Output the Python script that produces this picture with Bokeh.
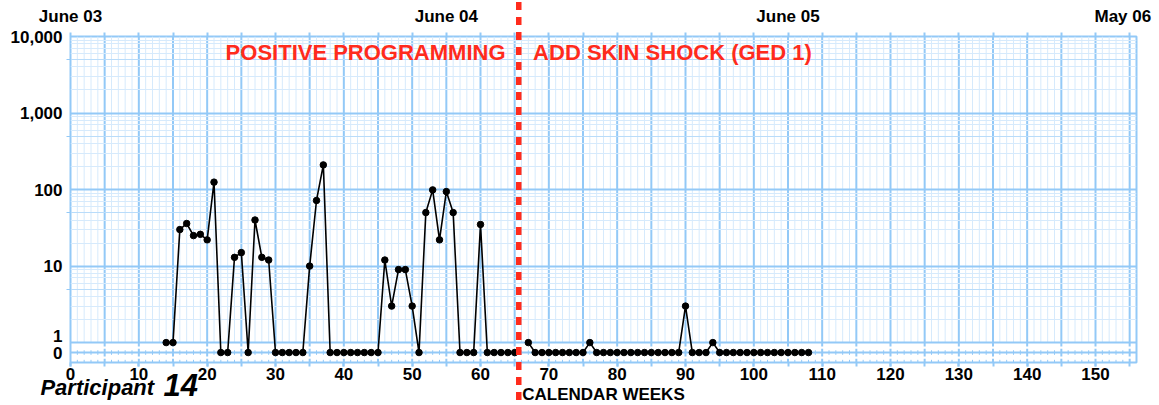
import numpy as np
from bokeh.plotting import figure
from bokeh.models import FixedTicker, LinearAxis, Grid, Label, Range1d
from bokeh.core.properties import value
from bokeh.embed import file_html
from bokeh.resources import INLINE

# ---------------- data ----------------
phase1_weeks = list(range(14, 66))
phase1_counts = [1, 1, 30, 36, 25, 26, 22, 125, 0, 0, 13, 15, 0, 40, 13, 12,
                 0, 0, 0, 0, 0, 10, 72, 210, 0, 0, 0, 0, 0, 0, 0, 0,
                 12, 3, 9, 9, 3, 0, 50, 99, 22, 94, 50, 0, 0, 0, 35,
                 0, 0, 0, 0, 0]
phase2_weeks = list(range(67, 109))
phase2_counts = [1, 0, 0, 0, 0, 0, 0, 0, 0, 1,
                 0, 0, 0, 0, 0, 0, 0, 0, 0, 0, 0, 0, 0,
                 3, 0, 0, 0, 1,
                 0, 0, 0, 0, 0, 0, 0, 0, 0, 0, 0, 0, 0, 0]
phase_change_week = 65.6
phase_labels = ["POSITIVE PROGRAMMING", "ADD SKIN SHOCK (GED 1)"]
phase_label_weeks = [22.7, 67.7]
date_weeks = [0, 55, 105, 154]
date_labels = ["June 03", "June 04", "June 05", "May 06"]
x_ticks = list(range(0, 151, 10))
y_tick_values = [0, 1, 10, 100, 1000, 10000]
y_tick_labels = ["0", "1", "10", "100", "1,000", "10,000"]
participant = "Participant"
participant_no = "14"
x_title = "CALENDAR WEEKS"

# ---------------- styling ----------------
W, H = 1159, 405
LEFT, RIGHT, TOP, BOTTOM = 70, 23, 36, 43
ZERO = -0.13          # where a count of 0 is drawn (log10 units)
YMIN = -0.26
YMAX = 4.0
XMAX = 156
K = (W - LEFT - RIGHT) / XMAX   # px per week
FONT = "Liberation Sans"
RED = "#FF2B1C"
MAJ = "#93C9F7"
MED = "#B9DCFA"
MIN = "#D6EAFC"


def to_y(c):
    return float(np.log10(c)) if c > 0 else ZERO


p = figure(width=W, height=H, x_range=Range1d(0, XMAX), y_range=Range1d(YMIN, YMAX),
           output_backend="svg", toolbar_location=None,
           min_border_left=LEFT, min_border_right=RIGHT, min_border_top=TOP, min_border_bottom=BOTTOM)
p.xgrid.visible = False
p.ygrid.visible = False
p.outline_line_color = MAJ
p.outline_line_width = 2
p.background_fill_color = "white"
p.border_fill_color = "white"

# horizontal grid lines
minor_h = [d + np.log10(m) for d in range(4) for m in (2, 3, 4, 6, 7, 8, 9)]
five_h = [d + np.log10(5) for d in range(4)]
decade_h = [ZERO, 0, 1, 2, 3]
for ticks, col, w in ((minor_h, MIN, 1), (five_h, MED, 1), (decade_h, MAJ, 2)):
    g = Grid(dimension=1, ticker=FixedTicker(ticks=ticks), grid_line_color=col, grid_line_width=w)
    p.add_layout(g)

# vertical grid lines (only above the "1" line)
weeks_all = np.arange(1, XMAX)
minor_v = [int(w) for w in weeks_all if w % 5]
major_v = [int(w) for w in weeks_all if w % 5 == 0]
p.segment(x0=minor_v, y0=0, x1=minor_v, y1=YMAX, line_color=MIN, line_width=1, level="underlay")
p.segment(x0=major_v, y0=0, x1=major_v, y1=YMAX, line_color=MAJ, line_width=2, level="underlay")
# tick marks in the zero band
p.segment(x0=minor_v, y0=ZERO - 0.03, x1=minor_v, y1=ZERO + 0.03, line_color=MAJ, line_width=1, level="underlay")
p.segment(x0=minor_v, y0=YMIN, x1=minor_v, y1=YMIN + 0.035, line_color=MAJ, line_width=1, level="underlay")
p.segment(x0=major_v, y0=ZERO - 0.05, x1=major_v, y1=ZERO + 0.05, line_color=MAJ, line_width=2, level="underlay")
p.segment(x0=major_v, y0=YMIN, x1=major_v, y1=YMIN + 0.05, line_color=MAJ, line_width=2, level="underlay")
p.segment(x0=major_v, y0=-0.05, x1=major_v, y1=0, line_color=MAJ, line_width=2, level="underlay")

# data
for wk, cnt in ((phase1_weeks, phase1_counts), (phase2_weeks, phase2_counts)):
    ys = [to_y(c) for c in cnt]
    p.line(wk, ys, line_color="black", line_width=1.6)
    p.scatter(wk, ys, size=6.5, color="black")

# phase labels
for txt, xw in zip(phase_labels, phase_label_weeks):
    p.add_layout(Label(x=xw, y=3.785, text=txt, text_font=FONT, text_font_style="bold",
                       text_font_size="22px", text_color=RED, text_baseline="middle"))

# left axis
ya = p.yaxis[0]
y_pos = [ZERO if v == 0 else float(np.log10(v)) for v in y_tick_values]
y_pos[1] = 0.085  # label "1" sits just above its line
ya.ticker = FixedTicker(ticks=y_pos, minor_ticks=five_h)
ya.major_label_overrides = {pos: lab for pos, lab in zip(y_pos, y_tick_labels)}
ya.axis_line_color = None
ya.major_tick_out = 0
ya.major_tick_in = 0
ya.minor_tick_out = 4
ya.minor_tick_in = 0
ya.minor_tick_line_color = MAJ
ya.major_label_standoff = 4
ya.major_label_text_font = FONT
ya.major_label_text_font_style = "bold"
ya.major_label_text_font_size = "17px"
ya.major_label_text_color = "black"

# bottom axis
xa = p.xaxis[0]
xa.ticker = FixedTicker(ticks=x_ticks, minor_ticks=list(range(0, XMAX + 1, 5)))
xa.axis_line_color = None
xa.major_tick_out = 4
xa.major_tick_in = 0
xa.minor_tick_out = 4
xa.minor_tick_in = 0
xa.major_tick_line_color = MAJ
xa.minor_tick_line_color = MAJ
xa.major_tick_line_width = 2
xa.minor_tick_line_width = 2
xa.major_label_standoff = 1
xa.major_label_text_font = FONT
xa.major_label_text_font_style = "bold"
xa.major_label_text_font_size = "17px"
xa.major_label_text_color = "black"

# top axis with dates
ta = LinearAxis(ticker=FixedTicker(ticks=date_weeks, minor_ticks=list(range(0, XMAX + 1, 5))))
ta.major_label_overrides = {w: lab for w, lab in zip(date_weeks, date_labels)}
ta.axis_line_color = None
ta.major_tick_out = 0
ta.major_tick_in = 0
ta.minor_tick_out = 4
ta.minor_tick_in = 0
ta.minor_tick_line_color = MAJ
ta.minor_tick_line_width = 2
ta.major_label_standoff = 7
ta.major_label_text_font = FONT
ta.major_label_text_font_style = "bold"
ta.major_label_text_font_size = "17px"
ta.major_label_text_color = "black"
p.add_layout(ta, "above")

# ---------- transparent overlay (separate root) for marks outside the plot frame ----------
q = figure(width=W, height=H, x_range=Range1d(-LEFT / K, (W - LEFT) / K), y_range=Range1d(H, 0),
           output_backend="svg", toolbar_location=None, min_border=0,
           min_border_left=0, min_border_right=0, min_border_top=0, min_border_bottom=0,
           x_axis_location=None, y_axis_location=None)
q.grid.visible = False
q.outline_line_color = None
q.background_fill_alpha = 0
q.border_fill_alpha = 0
q.styles = {"position": "absolute", "left": "0px", "top": "0px"}

q.text(x=[-4.4], y=[387.4], text=[participant], text_font=value(FONT), text_font_style="bold italic",
       text_font_size="22px", text_baseline="middle", text_color="black")
q.text(x=[13.6], y=[384.3], text=[participant_no], text_font=value(FONT), text_font_style="bold italic",
       text_font_size="31px", text_baseline="middle", text_color="black")
q.text(x=[78.0], y=[394.1], text=[x_title], text_font=value(FONT), text_font_style="bold",
       text_font_size="17px", text_align="center", text_baseline="middle", text_color="black")
# phase change line spanning the whole chart height
q.segment(x0=[phase_change_week], y0=[1.5], x1=[phase_change_week], y1=[H],
          line_color=RED, line_width=5.5, line_dash="8 7")

open("out.html", "w").write(file_html([p, q], INLINE))
